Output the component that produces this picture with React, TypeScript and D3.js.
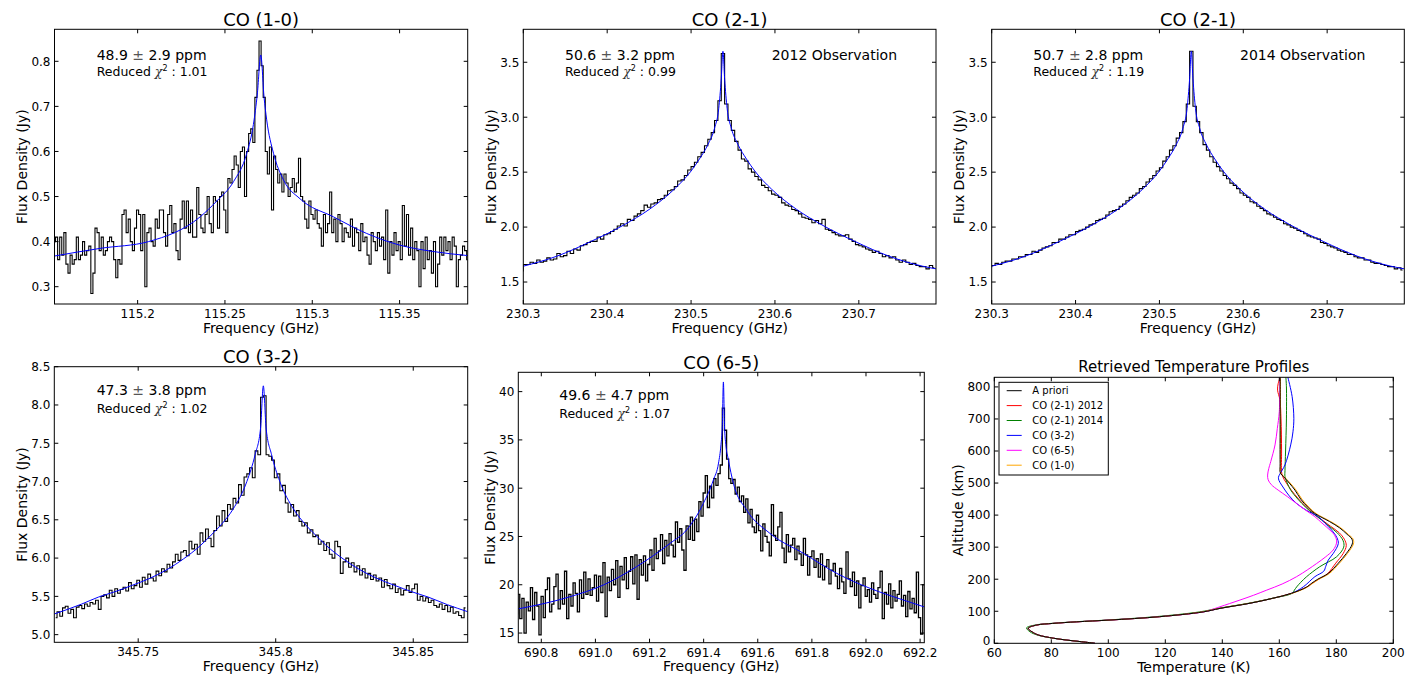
import React from "react";
import * as d3 from "d3";

const FONT = '"DejaVu Sans", "Liberation Sans", sans-serif';

// ---------------- CO (1-0) ----------------
const co10Start = 115.1524;
const co10Width = 0.001189;
const co10Flux = [
  0.40, 0.41, 0.36, 0.41, 0.37, 0.42, 0.35, 0.33, 0.37, 0.35,
  0.36, 0.41, 0.36, 0.37, 0.40, 0.37, 0.38, 0.39, 0.285, 0.33,
  0.43, 0.42, 0.38, 0.41, 0.37, 0.38, 0.40, 0.41, 0.40, 0.36,
  0.32, 0.36, 0.35, 0.46, 0.47, 0.42, 0.45, 0.40, 0.38, 0.43,
  0.47, 0.46, 0.38, 0.46, 0.30, 0.42, 0.43, 0.40, 0.39, 0.45,
  0.43, 0.47, 0.47, 0.42, 0.39, 0.46, 0.48, 0.42, 0.44, 0.38,
  0.36, 0.45, 0.49, 0.43, 0.49, 0.42, 0.47, 0.41, 0.41, 0.52,
  0.46, 0.43, 0.42, 0.46, 0.50, 0.44, 0.42, 0.50, 0.49, 0.43,
  0.50, 0.51, 0.47, 0.42, 0.54, 0.53, 0.56, 0.59, 0.57, 0.52,
  0.60, 0.61, 0.50, 0.60, 0.64, 0.65, 0.62, 0.72, 0.78, 0.845,
  0.79, 0.72, 0.60, 0.55, 0.61, 0.47, 0.59, 0.56, 0.53, 0.55,
  0.51, 0.55, 0.53, 0.50, 0.52, 0.54, 0.51, 0.53, 0.585, 0.50,
  0.49, 0.45, 0.43, 0.49, 0.46, 0.45, 0.47, 0.44, 0.43, 0.39,
  0.46, 0.42, 0.44, 0.51, 0.42, 0.45, 0.40, 0.46, 0.44, 0.40,
  0.43, 0.42, 0.41, 0.45, 0.39, 0.43, 0.42, 0.38, 0.44, 0.40,
  0.41, 0.37, 0.35, 0.42, 0.40, 0.38, 0.42, 0.39, 0.41, 0.36,
  0.47, 0.33, 0.40, 0.37, 0.42, 0.38, 0.40, 0.36, 0.48, 0.39,
  0.46, 0.37, 0.43, 0.36, 0.40, 0.38, 0.30, 0.40, 0.34, 0.41,
  0.36, 0.38, 0.33, 0.40, 0.30, 0.35, 0.41, 0.37, 0.41, 0.38,
  0.40, 0.36, 0.41, 0.39, 0.30, 0.36, 0.37, 0.39, 0.38, 0.36,
];
const co10Fit: [number, number][] = [
  [115.1524, 0.368], [115.1785, 0.385], [115.2062, 0.40], [115.2358, 0.455],
  [115.2453, 0.49], [115.2549, 0.533], [115.2625, 0.596], [115.2663, 0.66],
  [115.2686, 0.73], [115.2705, 0.814], [115.2724, 0.72], [115.2739, 0.67],
  [115.2778, 0.596], [115.2835, 0.537], [115.293, 0.495], [115.3121, 0.455],
  [115.3312, 0.418], [115.3503, 0.392], [115.3693, 0.378], [115.389, 0.369],
];
const co10FreqTicks = [115.2, 115.25, 115.3, 115.35];
const co10FluxTicks = [0.3, 0.4, 0.5, 0.6, 0.7, 0.8];

// ---------------- CO (2-1) 2012 ----------------
const co21aStart = 230.298;
const co21aWidth = 0.004;
const co21aFlux = [
  1.60, 1.66, 1.66, 1.68, 1.67, 1.70, 1.68, 1.69, 1.72, 1.70,
  1.71, 1.76, 1.73, 1.74, 1.78, 1.76, 1.80, 1.79, 1.83, 1.84,
  1.86, 1.87, 1.87, 1.91, 1.89, 1.93, 1.94, 1.96, 1.98, 2.01,
  2.03, 2.01, 2.07, 2.06, 2.10, 2.12, 2.15, 2.20, 2.18, 2.21,
  2.22, 2.25, 2.26, 2.29, 2.33, 2.34, 2.37, 2.42, 2.43, 2.47,
  2.52, 2.55, 2.59, 2.64, 2.68, 2.74, 2.80, 2.86, 2.97, 3.15,
  3.58, 3.12, 2.97, 2.88, 2.78, 2.70, 2.62, 2.60, 2.53, 2.50,
  2.46, 2.43, 2.38, 2.36, 2.33, 2.30, 2.29, 2.27, 2.22, 2.20,
  2.19, 2.16, 2.15, 2.12, 2.09, 2.08, 2.07, 2.04, 2.06, 2.03,
  2.07, 1.98, 1.97, 1.95, 1.93, 1.92, 1.92, 1.93, 1.89, 1.87,
  1.84, 1.83, 1.82, 1.80, 1.79, 1.77, 1.78, 1.76, 1.73, 1.74,
  1.72, 1.73, 1.70, 1.68, 1.70, 1.68, 1.66, 1.67, 1.65, 1.64,
  1.64, 1.62, 1.65, 1.63,
];
const co21aFit: [number, number][] = [
  [230.3, 1.644], [230.34, 1.735], [230.38, 1.867], [230.42, 2.02], [230.45, 2.16],
  [230.48, 2.345], [230.5, 2.51], [230.51, 2.62], [230.52, 2.75], [230.528, 2.9],
  [230.533, 3.08], [230.536, 3.35], [230.538, 3.6], [230.54, 3.35], [230.543, 3.08],
  [230.548, 2.9], [230.556, 2.75], [230.566, 2.62], [230.576, 2.51], [230.596, 2.345],
  [230.626, 2.16], [230.656, 2.02], [230.696, 1.867], [230.736, 1.735], [230.776, 1.644],
  [230.792, 1.62],
];

// ---------------- CO (2-1) 2014 ----------------
const co21bStart = 230.298;
const co21bWidth = 0.004;
const co21bFlux = [
  1.64, 1.65, 1.67, 1.66, 1.68, 1.69, 1.69, 1.71, 1.71, 1.73,
  1.73, 1.75, 1.75, 1.78, 1.77, 1.79, 1.81, 1.82, 1.83, 1.86,
  1.86, 1.89, 1.89, 1.91, 1.93, 1.93, 1.96, 1.97, 1.98, 2.00,
  2.02, 2.03, 2.06, 2.07, 2.08, 2.11, 2.14, 2.15, 2.16, 2.19,
  2.21, 2.24, 2.27, 2.29, 2.31, 2.35, 2.37, 2.41, 2.44, 2.47,
  2.51, 2.54, 2.60, 2.64, 2.70, 2.74, 2.81, 2.86, 2.96, 3.12,
  3.60, 3.10, 2.96, 2.86, 2.75, 2.70, 2.64, 2.59, 2.55, 2.51,
  2.47, 2.44, 2.40, 2.38, 2.35, 2.31, 2.29, 2.27, 2.23, 2.22,
  2.19, 2.17, 2.15, 2.12, 2.11, 2.09, 2.07, 2.06, 2.03, 2.02,
  2.00, 1.99, 1.97, 1.96, 1.94, 1.92, 1.91, 1.90, 1.89, 1.86,
  1.85, 1.83, 1.82, 1.81, 1.79, 1.78, 1.77, 1.75, 1.75, 1.73,
  1.72, 1.72, 1.70, 1.70, 1.68, 1.67, 1.67, 1.66, 1.65, 1.64,
  1.64, 1.62, 1.63, 1.61,
];
const co21bFit: [number, number][] = [
  [230.3, 1.644], [230.34, 1.735], [230.38, 1.867], [230.42, 2.02], [230.45, 2.16],
  [230.48, 2.345], [230.5, 2.51], [230.51, 2.62], [230.52, 2.75], [230.528, 2.9],
  [230.533, 3.08], [230.536, 3.35], [230.538, 3.6], [230.54, 3.35], [230.543, 3.08],
  [230.548, 2.9], [230.556, 2.75], [230.566, 2.62], [230.576, 2.51], [230.596, 2.345],
  [230.626, 2.16], [230.656, 2.02], [230.696, 1.867], [230.736, 1.735], [230.776, 1.644],
  [230.792, 1.62],
];
const co21FreqTicks = [230.3, 230.4, 230.5, 230.6, 230.7];
const co21FluxTicks = [1.5, 2.0, 2.5, 3.0, 3.5];

// ---------------- CO (3-2) ----------------
const co32Start = 345.72;
const co32Width = 0.001;
const co32Flux = [
  5.22, 5.30, 5.24, 5.35, 5.37, 5.28, 5.33, 5.22, 5.36, 5.38,
  5.34, 5.40, 5.37, 5.42, 5.40, 5.45, 5.33, 5.50, 5.52, 5.48,
  5.58, 5.50, 5.60, 5.54, 5.59, 5.62, 5.57, 5.68, 5.60, 5.64,
  5.71, 5.62, 5.75, 5.66, 5.79, 5.74, 5.70, 5.83, 5.77, 5.86,
  5.82, 5.92, 5.87, 5.95, 6.05, 5.97, 6.08, 6.10, 6.03, 6.22,
  6.12, 6.18, 6.05, 6.33, 6.22, 6.38, 6.26, 6.15, 6.36, 6.55,
  6.42, 6.62, 6.48, 6.70, 6.64, 6.78, 6.72, 6.96, 6.82, 7.06,
  7.10, 7.18, 7.05, 7.40, 7.35, 8.10, 8.12, 7.35, 7.33, 7.28,
  7.05, 7.10, 6.88, 6.95, 6.72, 6.60, 6.70, 6.55, 6.62, 6.48,
  6.42, 6.46, 6.33, 6.37, 6.28, 6.30, 6.18, 6.22, 6.10, 6.20,
  6.05, 6.00, 6.22, 6.15, 5.80, 5.95, 6.00, 5.88, 5.94, 5.82,
  5.90, 5.78, 5.86, 5.74, 5.80, 5.72, 5.78, 5.70, 5.74, 5.62,
  5.72, 5.64, 5.60, 5.66, 5.55, 5.60, 5.52, 5.58, 5.64, 5.55,
  5.60, 5.66, 5.45, 5.50, 5.44, 5.48, 5.42, 5.45, 5.38, 5.36,
  5.40, 5.33, 5.38, 5.30, 5.36, 5.28, 5.30, 5.25, 5.22, 5.35,
];
const co32Fit: [number, number][] = [
  [345.7195, 5.27], [345.7295, 5.40], [345.7355, 5.49], [345.7415, 5.56], [345.7475, 5.64],
  [345.7545, 5.74], [345.7605, 5.85], [345.7665, 5.99], [345.7725, 6.16], [345.7765, 6.30],
  [345.7805, 6.45], [345.7845, 6.64], [345.7895, 7.0], [345.7925, 7.35], [345.7945, 7.7],
  [345.7955, 8.25], [345.7965, 7.7], [345.7985, 7.35], [345.8015, 7.0], [345.8065, 6.64],
  [345.8105, 6.45], [345.8145, 6.30], [345.8185, 6.16], [345.8245, 5.99], [345.8305, 5.85],
  [345.8365, 5.74], [345.8435, 5.64], [345.8495, 5.56], [345.8555, 5.49], [345.8625, 5.39],
  [345.8698, 5.30],
];
const co32FreqTicks = [345.75, 345.8, 345.85];
const co32FluxTicks = [5.0, 5.5, 6.0, 6.5, 7.0, 7.5, 8.0, 8.5];

// ---------------- CO (6-5) ----------------
const co65Start = 690.7086;
const co65Width = 0.00788;
const co65Flux = [
  17.0, 19.0, 16.5, 18.6, 15.0, 18.2, 17.3, 19.7, 16.4, 19.2,
  17.8, 14.8, 18.8, 16.6, 19.5, 20.7, 17.2, 18.0, 19.8, 21.1,
  17.5, 19.4, 18.0, 21.4, 16.5, 19.0, 17.8, 20.2, 19.1, 17.2,
  20.5, 18.6, 21.3, 19.0, 20.6, 18.9, 19.7, 21.0, 18.3, 20.9,
  19.2, 22.3, 16.7, 20.8, 19.4, 21.6, 20.0, 22.5, 18.7, 21.9,
  20.5, 22.8, 19.6, 21.4, 22.9, 20.1, 23.1, 18.5, 22.6, 21.0,
  23.0, 20.4, 22.1, 23.6, 21.5, 24.8, 22.7, 23.5, 25.2, 22.2,
  24.6, 23.0, 25.3, 24.1, 22.9, 26.5, 24.4, 25.8, 23.6, 21.5,
  26.1, 24.7, 27.0, 24.6, 26.8, 25.5, 28.6, 27.1, 29.5, 31.3,
  28.0, 30.2, 29.0, 31.0, 30.3, 31.5, 32.4, 38.3, 36.0, 33.0,
  31.0, 30.5, 30.9, 29.4, 30.1, 28.6, 29.2, 27.5, 28.9, 26.4,
  27.8, 26.0, 25.4, 27.2, 25.6, 23.5, 26.3, 25.0, 24.4, 23.0,
  28.3, 25.1, 24.6, 26.0, 27.5, 23.8, 22.3, 25.2, 23.4, 24.1,
  24.8, 22.6, 24.0, 23.2, 22.0, 24.8, 23.1, 21.0, 22.9, 23.5,
  21.8, 22.7, 20.8, 23.2, 20.5, 21.9, 22.6, 20.1, 21.5, 22.2,
  20.9, 19.6, 21.7, 20.3, 19.1, 23.4, 20.6, 19.8, 21.3, 18.9,
  20.4, 17.6, 19.9, 20.7, 18.8, 19.5, 18.2, 20.2, 19.0, 18.6,
  19.7, 21.4, 16.5, 19.2, 18.0, 20.1, 17.6, 19.4, 18.3, 19.0,
  20.4, 17.8, 18.9, 16.7, 19.3, 17.5, 18.6, 17.1, 21.3, 16.6,
  14.9, 20.0,
];
const co65Fit: [number, number][] = [
  [690.715, 17.5], [690.906, 18.76], [691.029, 19.97], [691.152, 21.87], [691.276, 24.29],
  [691.337, 25.67], [691.399, 28.43], [691.436, 30.85], [691.455, 32.6], [691.464, 34.5],
  [691.469, 36.5], [691.473, 41.0], [691.477, 36.5], [691.482, 34.5], [691.491, 33.0],
  [691.51, 30.5], [691.559, 27.74], [691.645, 25.32], [691.769, 23.25], [691.892, 21.18],
  [692.015, 19.63], [692.138, 18.42], [692.216, 17.7],
];
const co65FreqTicks = [690.8, 691.0, 691.2, 691.4, 691.6, 691.8, 692.0, 692.2];
const co65FluxTicks = [15, 20, 25, 30, 35, 40];

// ---------------- Temperature profiles: [altitude km, temperature K] ----------------
const aprioriProfile: [number, number][] = [
  [0, 95.3], [5, 90.5], [10, 85.5], [16, 80.7], [26, 75.4], [36, 73.2], [47, 71.9], [57, 74.9],
  [62, 80.5], [67, 88.9], [72.6, 100.6], [83, 118], [98, 133.3], [109, 139.2], [125, 149.7],
  [140, 157.5], [156, 164.3], [175, 169.5], [187, 171.3], [200, 173.5], [218, 177.2], [250, 180.7],
  [280, 183.5], [310, 185.6], [325, 185.5], [340, 183.8], [360, 181.2], [380, 177.6], [405, 172.5],
  [425, 170], [450, 167.5], [478, 165.5], [500, 163.5], [520, 161.5], [531, 160.4], [560, 160.3],
  [700, 160.3], [830, 160.3],
];
const co21aProfile: [number, number][] = [
  [0, 95.3], [5, 90.5], [10, 85.5], [16, 80.7], [26, 75.4], [36, 73.2], [47, 71.9], [57, 74.9],
  [62, 80.5], [67, 88.9], [72.6, 100.6], [83, 118], [98, 133.3], [109, 139.2], [125, 149.7],
  [140, 157.5], [156, 164.3], [175, 169.5], [187, 171.5], [200, 173.8], [218, 177], [250, 179.8],
  [280, 182.4], [305, 183.5], [325, 182.8], [345, 181], [365, 178], [385, 175], [405, 172],
  [425, 169.5], [450, 166.8], [478, 164.2], [500, 162.5], [520, 161.2], [535, 160.8], [600, 160.8],
  [700, 160.6], [760, 160.2], [790, 159.4], [810, 159.6], [830, 160.3],
];
const co21bProfile: [number, number][] = [
  [0, 95.3], [5, 90.5], [10, 85.5], [16, 80.5], [26, 75], [36, 72.5], [48, 71.3], [57, 74.3],
  [62, 79.8], [67, 88], [72.6, 99.5], [83, 116.5], [98, 132], [109, 138.5], [125, 149.2],
  [140, 157.3], [156, 164.5], [166, 165.3], [176, 166.1], [190, 167.5], [208, 169.6], [239, 174.2],
  [270, 180.1], [300, 182.6], [320, 182.4], [345, 180.3], [365, 177.5], [385, 174.8], [405, 171.8],
  [425, 169.2], [450, 166.5], [478, 164], [500, 162.8], [520, 162], [540, 162], [600, 162.2],
  [700, 162.5], [800, 162.5], [830, 162.3],
];
const co32Profile: [number, number][] = [
  [0, 95.3], [5, 90.5], [10, 85.5], [16, 80.7], [26, 75.4], [36, 73.2], [47, 71.9], [57, 74.9],
  [62, 80.5], [67, 88.9], [72.6, 100.6], [83, 118], [98, 133.3], [109, 139.2], [125, 149.7],
  [140, 157.5], [156, 164.3], [176, 168.4], [208, 172.5], [225, 175.6], [240, 176.3], [260, 177.2],
  [280, 178.9], [311, 180.7], [330, 180.2], [353, 178.4], [375, 176], [395, 173.7], [415, 169.5],
  [436, 166.1], [460, 163.5], [478, 162], [494, 160.8], [508, 159.9], [518, 159.7], [528, 160.2],
  [557, 162], [619, 164], [660, 164.8], [702, 165.1], [770, 164.5], [830, 163],
];
const co65Profile: [number, number][] = [
  [0, 95.3], [5, 90.5], [10, 85.5], [16, 80.7], [26, 75.4], [36, 73.2], [47, 71.9], [57, 74.9],
  [62, 80.5], [67, 88.9], [72.6, 100.6], [83, 118], [98, 133.3], [106, 136.5], [114, 139.2],
  [135, 146.2], [150, 151], [166, 155.6], [185, 161], [208, 166.1], [230, 170], [249, 173.1],
  [270, 176.3], [291, 178.9], [310, 180], [322, 180.1], [340, 179.2], [353, 177.8], [375, 175],
  [395, 172.5], [415, 169.3], [436, 166.1], [458, 162.8], [478, 159.6], [495, 157.2], [510, 156.1],
  [525, 155.9], [545, 156.3], [567, 157], [619, 158.5], [670, 159.3], [723, 160], [830, 160.2],
];
const co10Profile: [number, number][] = [
  [0, 95.3], [5, 90.5], [10, 85.5], [16, 80.7], [26, 75.4], [36, 73.2], [47, 71.9], [57, 74.9],
  [62, 80.5], [67, 88.9], [72.6, 100.6], [83, 118], [98, 133], [109, 139], [125, 149.5],
  [140, 157.5], [156, 164.5], [175, 169.8], [187, 171.7], [200, 173.9], [218, 177.6], [250, 181.1],
  [280, 183.9], [310, 186], [325, 185.9], [340, 184.2], [360, 181.6], [380, 178], [405, 172.9],
  [425, 170.4], [450, 167.9], [478, 165.9], [500, 163.8], [520, 161.7], [531, 160.5], [560, 160.4],
  [700, 160.4], [830, 160.4],
];
const tempTicks = [60, 80, 100, 120, 140, 160, 180, 200];
const altTicks = [0, 100, 200, 300, 400, 500, 600, 700, 800];
const legendNames = ["A priori", "CO (2-1) 2012", "CO (2-1) 2014", "CO (3-2)", "CO (6-5)", "CO (1-0)"];

type Box = { l: number; r: number; t: number; b: number };

function Frame({ box, x, y, xTicks, yTicks, xFmt, yFmt, firstYShift = 0 }: any) {
  const T = 4;
  return (
    <g>
      {xTicks.map((v: number) => (
        <g key={"x" + v}>
          <line x1={x(v)} x2={x(v)} y1={box.b} y2={box.b - T} stroke="#000" strokeWidth={1} />
          <line x1={x(v)} x2={x(v)} y1={box.t} y2={box.t + T} stroke="#000" strokeWidth={1} />
          <text x={x(v)} y={box.b + 13.8} fontSize={12} textAnchor="middle" fill="#000">
            {xFmt(v)}
          </text>
        </g>
      ))}
      {yTicks.map((v: number, i: number) => (
        <g key={"y" + v}>
          <line x1={box.l} x2={box.l + T} y1={y(v)} y2={y(v)} stroke="#000" strokeWidth={1} />
          <line x1={box.r} x2={box.r - T} y1={y(v)} y2={y(v)} stroke="#000" strokeWidth={1} />
          <text x={box.l - 4} y={y(v) + (i === 0 ? firstYShift : 0)} dy="0.36em" fontSize={12} textAnchor="end" fill="#000">
            {yFmt(v)}
          </text>
        </g>
      ))}
      <rect x={box.l} y={box.t} width={box.r - box.l} height={box.b - box.t} fill="none" stroke="#000" strokeWidth={1} />
    </g>
  );
}

function Spectrum(p: any) {
  const box: Box = p.box;
  const x = d3.scaleLinear().domain(p.xDom).range([box.l, box.r]);
  const y = d3.scaleLinear().domain(p.yDom).range([box.b, box.t]);
  const pts: [number, number][] = p.flux.map((v: number, i: number) => [p.start + i * p.width, v]);
  const dataD = d3.line<[number, number]>().x((d) => x(d[0])).y((d) => y(d[1])).curve(d3.curveStep)(pts) || "";
  const fitD = d3.line<[number, number]>().x((d) => x(d[0])).y((d) => y(d[1])).curve(d3.curveMonotoneX)(p.fit) || "";
  const cx = (box.l + box.r) / 2;
  const cy = (box.t + box.b) / 2;
  return (
    <g>
      <defs>
        <clipPath id={p.id}>
          <rect x={box.l} y={box.t} width={box.r - box.l} height={box.b - box.t} />
        </clipPath>
      </defs>
      <g clipPath={`url(#${p.id})`}>
        <path d={dataD} fill="none" stroke="#000" strokeWidth={p.dataWidth || 1.1} />
        <path d={fitD} fill="none" stroke="#0000ff" strokeWidth={1} />
      </g>
      <Frame box={box} x={x} y={y} xTicks={p.xTicks} yTicks={p.yTicks} xFmt={p.xFmt} yFmt={p.yFmt} />
      <text x={cx} y={p.titleY} fontSize={18} textAnchor="middle">{p.title}</text>
      <text x={cx} y={box.b + 28.5} fontSize={14} textAnchor="middle">Frequency (GHz)</text>
      <text transform={`translate(${box.l - p.ylabOff},${cy}) rotate(-90)`} fontSize={14} textAnchor="middle">
        Flux Density (Jy)
      </text>
      <text x={p.annX} y={p.annY1} fontSize={14}>
        {p.ppm[0]}
        <tspan fill="#555"> ± </tspan>
        {p.ppm[1]} ppm
      </text>
      <text x={p.annX} y={p.annY2} fontSize={12.5}>
        Reduced{" "}
        <tspan fontFamily='"DejaVu Serif", serif' fontStyle="italic" fill="#333">χ</tspan>
        <tspan fontSize={8} dy={-5}>2</tspan>
        <tspan dy={5}> : {p.chi}</tspan>
      </text>
      {p.obs ? (
        <text x={p.obsX} y={p.annY1} fontSize={14}>{p.obs}</text>
      ) : null}
    </g>
  );
}

function Profiles() {
  const box: Box = { l: 994.3, r: 1393.3, t: 377.3, b: 643.3 };
  const x = d3.scaleLinear().domain([60, 200]).range([box.l, box.r]);
  const y = d3.scaleLinear().domain([0, 830]).range([box.b, box.t]);
  const line = d3
    .line<[number, number]>()
    .x((d) => x(d[1]))
    .y((d) => y(d[0]))
    .curve(d3.curveCatmullRom.alpha(0.5));
  const series = [
    { data: co21aProfile, color: "#ff0000" },
    { data: co21bProfile, color: "#008000" },
    { data: co32Profile, color: "#0000ff" },
    { data: co65Profile, color: "#ff00ff" },
    { data: co10Profile, color: "#ffa500" },
    { data: aprioriProfile, color: "#000000" },
  ];
  const legendColors = ["#000000", "#ff0000", "#008000", "#0000ff", "#ff00ff", "#ffa500"];
  const cx = (box.l + box.r) / 2;
  const cy = (box.t + box.b) / 2;
  return (
    <g>
      <defs>
        <clipPath id="clipT">
          <rect x={box.l} y={box.t} width={box.r - box.l} height={box.b - box.t} />
        </clipPath>
      </defs>
      <g clipPath="url(#clipT)">
        {series.map((s, i) => (
          <path key={i} d={line(s.data) || ""} fill="none" stroke={s.color} strokeWidth={1} />
        ))}
      </g>
      <Frame box={box} x={x} y={y} xTicks={tempTicks} yTicks={altTicks} xFmt={(v: number) => String(v)} yFmt={(v: number) => String(v)} firstYShift={-2.5} />
      <text x={cx} y={372} fontSize={15} textAnchor="middle">Retrieved Temperature Profiles</text>
      <text x={cx} y={box.b + 28.5} fontSize={14} textAnchor="middle">Temperature (K)</text>
      <text transform={`translate(${box.l - 31},${cy}) rotate(-90)`} fontSize={14} textAnchor="middle">
        Altitude (km)
      </text>
      <g>
        <rect x={999} y={382.3} width={109.3} height={92.7} fill="#fff" stroke="#000" strokeWidth={1} />
        {legendNames.map((n, i) => {
          const yy = 390.7 + i * 14.9;
          return (
            <g key={n}>
              <line x1={1006.7} x2={1021.7} y1={yy} y2={yy} stroke={legendColors[i]} strokeWidth={1} />
              <text x={1032.3} y={yy} dy="0.36em" fontSize={10}>{n}</text>
            </g>
          );
        })}
      </g>
    </g>
  );
}

const str = (v: number) => String(v);
const f1 = (v: number) => v.toFixed(1);

export default function App() {
  React.useEffect(() => {
    document.body.style.margin = "0";
  }, []);
  return (
    <svg
      width={1418}
      height={675}
      style={{ position: "absolute", left: 0, top: 0, background: "#fff", fontFamily: FONT }}
    >
      <rect x={0} y={0} width={1418} height={675} fill="#fff" />
      <Spectrum
        id="c1" box={{ l: 54.5, r: 467.7, t: 29.3, b: 304 }}
        xDom={[115.1524, 115.389]} yDom={[0.2616, 0.871]}
        xTicks={co10FreqTicks} yTicks={co10FluxTicks} xFmt={str} yFmt={f1}
        start={co10Start} width={co10Width} flux={co10Flux} fit={co10Fit}
        title="CO (1-0)" titleY={25.5} ylabOff={27.6}
        ppm={["48.9", "2.9"]} chi="1.01" annX={96.7} annY1={60} annY2={76}
      />
      <Spectrum
        id="c2" box={{ l: 523.3, r: 936, t: 29.3, b: 304 }}
        xDom={[230.3, 230.792]} yDom={[1.3, 3.8]}
        xTicks={co21FreqTicks} yTicks={co21FluxTicks} xFmt={str} yFmt={f1}
        start={co21aStart} width={co21aWidth} flux={co21aFlux} fit={co21aFit}
        title="CO (2-1)" titleY={25.5} ylabOff={27.6}
        ppm={["50.6", "3.2"]} chi="0.99" annX={565} annY1={60} annY2={76}
        obs="2012 Observation" obsX={771.7}
      />
      <Spectrum
        id="c3" box={{ l: 991.7, r: 1404.3, t: 29.3, b: 304 }}
        xDom={[230.3, 230.792]} yDom={[1.3, 3.8]}
        xTicks={co21FreqTicks} yTicks={co21FluxTicks} xFmt={str} yFmt={f1}
        start={co21bStart} width={co21bWidth} flux={co21bFlux} fit={co21bFit}
        title="CO (2-1)" titleY={25.5} ylabOff={27.7}
        ppm={["50.7", "2.8"]} chi="1.19" annX={1033.3} annY1={60} annY2={76}
        obs="2014 Observation" obsX={1240}
      />
      <Spectrum
        id="c4" box={{ l: 54.3, r: 467.7, t: 366.7, b: 642.3 }}
        xDom={[345.7195, 345.8698]} yDom={[4.9, 8.5]}
        xTicks={co32FreqTicks} yTicks={co32FluxTicks} xFmt={str} yFmt={f1}
        start={co32Start} width={co32Width} flux={co32Flux} fit={co32Fit}
        title="CO (3-2)" titleY={363} ylabOff={27.6}
        ppm={["47.3", "3.8"]} chi="1.02" annX={96.7} annY1={395} annY2={413.3}
      />
      <Spectrum
        id="c5" box={{ l: 518.3, r: 924.3, t: 372.3, b: 642.7 }}
        xDom={[690.715, 692.2155]} yDom={[14, 42]}
        xTicks={co65FreqTicks} yTicks={co65FluxTicks} xFmt={f1} yFmt={str}
        start={co65Start} width={co65Width} flux={co65Flux} fit={co65Fit}
        title="CO (6-5)" titleY={368.5} ylabOff={23.3} dataWidth={1.3}
        ppm={["49.6", "4.7"]} chi="1.07" annX={559.3} annY1={400} annY2={417.7}
      />
      <Profiles />
    </svg>
  );
}
